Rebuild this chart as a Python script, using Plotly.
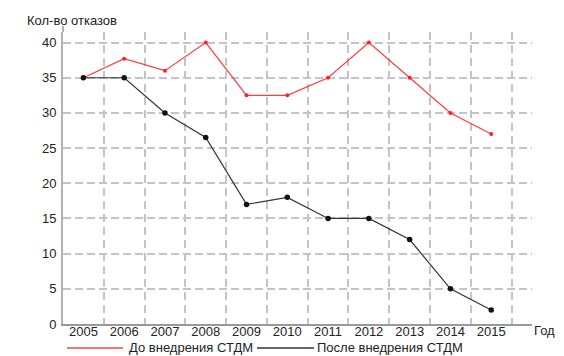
import plotly.graph_objects as go

years = [2005, 2006, 2007, 2008, 2009, 2010, 2011, 2012, 2013, 2014, 2015]
before = [35, 37.7, 36, 40, 32.5, 32.5, 35, 40, 35, 30, 27]
after = [35, 35, 30, 26.5, 17, 18, 15, 15, 12, 5, 2]
y_ticks = [0, 5, 10, 15, 20, 25, 30, 35, 40]
name_before = "До внедрения СТДМ"
name_after = "После внедрения СТДМ"
y_title = "Кол-во отказов"
x_title = "Год"

FONT = "Liberation Sans, Arial, sans-serif"
GRID = "#c4c4c4"
OFF = 8  # page body margin offset

PW, PH = 469, 292

fig = go.Figure()
fig.add_trace(go.Scatter(
    x=years, y=before, mode="lines+markers", name=name_before,
    line=dict(color="#ff3b3b", width=1.2),
    marker=dict(color="#ff2020", size=4),
    showlegend=False, cliponaxis=False,
))
fig.add_trace(go.Scatter(
    x=years, y=after, mode="lines+markers", name=name_after,
    line=dict(color="#333333", width=1.2),
    marker=dict(color="#111111", size=5.5),
    showlegend=False, cliponaxis=False,
))

fig.update_layout(
    width=564 - OFF, height=356 - OFF,
    margin=dict(l=63 - OFF, r=32, t=32 - OFF, b=32, autoexpand=False),
    paper_bgcolor="white", plot_bgcolor="white",
    font=dict(family=FONT, size=13, color="#222222"),
    xaxis=dict(
        range=[2004.5, 2016], tickvals=years, ticktext=[str(y) for y in years],
        showgrid=False, zeroline=False, showline=True, linecolor="#999999", linewidth=2,
        ticks="", ticklabelstandoff=-6, tickfont=dict(size=13, color="#222222"),
        minor=dict(tick0=2004.5, dtick=1, showgrid=True, gridcolor=GRID,
                   griddash="8px,5px", gridwidth=1.5, ticks=""),
    ),
    yaxis=dict(
        range=[0, 41.5], tickvals=y_ticks, showgrid=True, gridcolor=GRID,
        griddash="8px,4px", gridwidth=1.5, zeroline=False, showline=True,
        linecolor="#b3b3b3", linewidth=2, ticks="", ticklabelstandoff=2,
        tickfont=dict(size=13, color="#222222"),
    ),
    showlegend=False,
)

# extension of the y axis line above the plot
fig.add_shape(type="line", xref="paper", yref="paper", x0=0, x1=0, y0=1, y1=1 + 6 / PH,
              line=dict(color="#b3b3b3", width=2))

fig.add_annotation(text=y_title, xref="paper", yref="paper", x=-38 / PW, y=1 + 12 / PH,
                   xanchor="left", yanchor="middle", showarrow=False,
                   font=dict(size=13, color="#222222", family=FONT))
fig.add_annotation(text=x_title, xref="paper", yref="paper", x=1.0, y=-6 / PH,
                   xanchor="left", yanchor="middle", showarrow=False,
                   font=dict(size=13, color="#222222", family=FONT))

# manual legend
leg_y = -24 / PH
fig.add_shape(type="line", xref="paper", yref="paper", x0=4 / PW, x1=60 / PW, y0=leg_y, y1=leg_y,
              line=dict(color="#ff7070", width=2))
fig.add_annotation(text=name_before, xref="paper", yref="paper", x=64 / PW, y=leg_y,
                   xanchor="left", yanchor="middle", showarrow=False,
                   font=dict(size=13, color="#222222", family=FONT))
fig.add_shape(type="line", xref="paper", yref="paper", x0=194 / PW, x1=251 / PW, y0=leg_y, y1=leg_y,
              line=dict(color="#666666", width=2))
fig.add_annotation(text=name_after, xref="paper", yref="paper", x=252 / PW, y=leg_y,
                   xanchor="left", yanchor="middle", showarrow=False,
                   font=dict(size=13, color="#222222", family=FONT))

fig.write_html("out.html")
